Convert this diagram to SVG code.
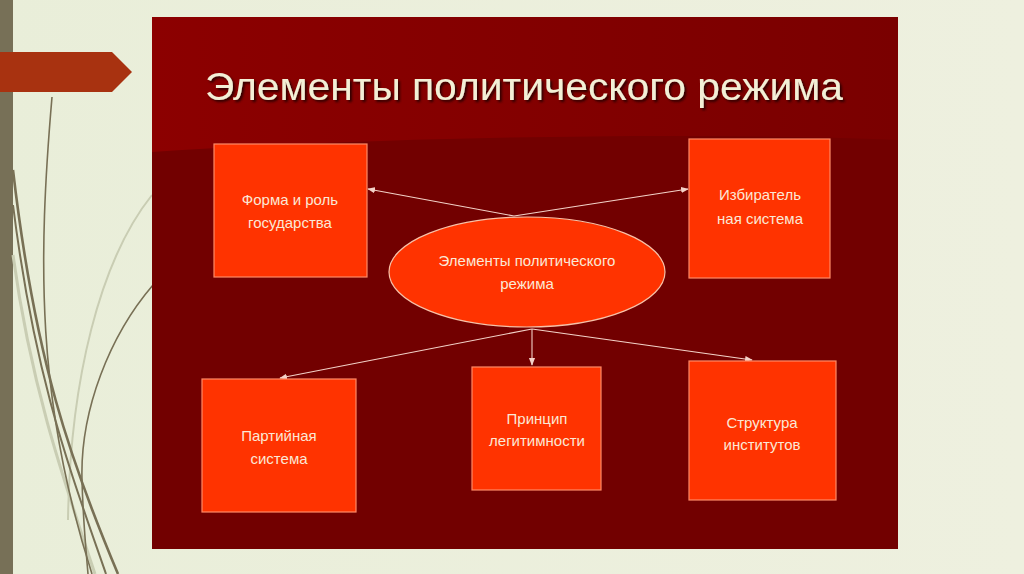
<svg xmlns="http://www.w3.org/2000/svg" width="1024" height="574" viewBox="0 0 1024 574">
<defs>
<linearGradient id="bg" x1="0" y1="0" x2="1" y2="0"><stop offset="0" stop-color="#e9eed9"/><stop offset="1" stop-color="#eef0df"/></linearGradient>
<linearGradient id="top" x1="0" y1="0" x2="1" y2="0"><stop offset="0" stop-color="#8c0000"/><stop offset="1" stop-color="#7a0000"/></linearGradient>
<marker id="ah" viewBox="0 0 10 10" refX="9" refY="5" markerWidth="7" markerHeight="7" orient="auto"><path d="M0,1 L10,5 L0,9 Z" fill="#f4d2c8"/></marker>
<filter id="sh" x="-5%" y="-20%" width="110%" height="140%"><feDropShadow dx="2" dy="2" stdDeviation="1" flood-color="#2a0000" flood-opacity="0.9"/></filter>
</defs>
<style>
.box{fill:#ff3300;stroke:#ff8a66;stroke-width:1.2}
.lbl{font-family:"Liberation Sans",Arial,sans-serif;font-size:15px;fill:#fbe8d6;text-anchor:middle}
.conn{stroke:#f4d2c8;stroke-width:1.1;fill:none;marker-end:url(#ah)}
.deco{fill:none;stroke:#787055}
.decol{fill:none;stroke:#c9cdb3}
</style>
<rect width="1024" height="574" fill="url(#bg)"/>
<g id="decoration">
<rect x="0" y="0" width="13" height="574" fill="#777057"/>
<path d="M13,255 C30,380 60,470 95,574" class="decol" stroke-width="3"/>
<path d="M152,195 C100,260 70,380 68,520" class="decol" stroke-width="2"/>
<path d="M52,97 C38,260 36,400 92,574" class="deco" stroke-width="1.6"/>
<path d="M13,170 C35,360 70,460 118,574" class="deco" stroke-width="2.6"/>
<path d="M13,205 C35,380 70,470 106,574" class="deco" stroke-width="2"/>
<path d="M153,285 C110,335 80,410 82,480 C83,520 86,550 88,574" class="deco" stroke-width="1.6"/>
<path d="M0,52 L112,52 L132,72 L112,92 L0,92 Z" fill="#a83210"/>
</g>
<g id="panel">
<rect x="152" y="17" width="746" height="532" fill="#720000"/>
<path d="M152,17 L898,17 L898,140 C700,132 400,136 152,152 Z" fill="url(#top)"/>
<text x="524" y="100" font-family="Liberation Sans,Arial,sans-serif" font-size="38" fill="#f3efd6" text-anchor="middle" textLength="638" lengthAdjust="spacingAndGlyphs" filter="url(#sh)">Элементы политического режима</text>
</g>
<g id="connectors">
<line x1="514" y1="216" x2="368" y2="189" class="conn"/>
<line x1="514" y1="216" x2="688" y2="189" class="conn"/>
<line x1="532" y1="329" x2="280" y2="378" class="conn"/>
<line x1="532" y1="329" x2="532" y2="365" class="conn"/>
<line x1="532" y1="329" x2="752" y2="360" class="conn"/>
</g>
<g id="center">
<ellipse cx="527" cy="272" rx="138" ry="55" fill="#ff3300" stroke="#f7c2a8" stroke-width="1.2"/>
<text class="lbl" x="527" y="266">Элементы политического</text>
<text class="lbl" x="527" y="289">режима</text>
</g>
<g id="forma">
<rect class="box" x="214" y="144" width="153" height="133"/>
<text class="lbl" x="290" y="205">Форма и роль</text>
<text class="lbl" x="290" y="228">государства</text>
</g>
<g id="izbir">
<rect class="box" x="689" y="139" width="141" height="139"/>
<text class="lbl" x="760" y="200">Избиратель</text>
<text class="lbl" x="760" y="224">ная система</text>
</g>
<g id="party">
<rect class="box" x="202" y="379" width="154" height="133"/>
<text class="lbl" x="279" y="441">Партийная</text>
<text class="lbl" x="279" y="464">система</text>
</g>
<g id="legit">
<rect class="box" x="472" y="367" width="129" height="123"/>
<text class="lbl" x="537" y="424">Принцип</text>
<text class="lbl" x="537" y="446">легитимности</text>
</g>
<g id="struct">
<rect class="box" x="689" y="361" width="147" height="139"/>
<text class="lbl" x="762" y="428">Структура</text>
<text class="lbl" x="762" y="450">институтов</text>
</g>
</svg>
